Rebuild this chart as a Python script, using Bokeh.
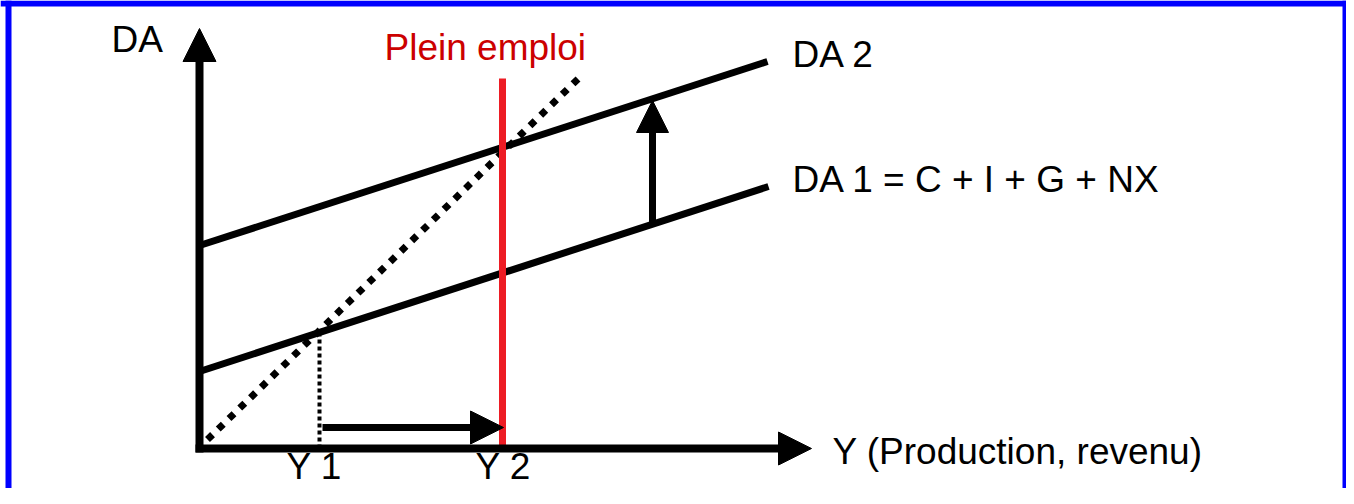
from bokeh.plotting import figure
from bokeh.models import Arrow, NormalHead, Span
from bokeh.core.properties import value
from bokeh.embed import file_html
from bokeh.resources import INLINE

# ---- data (diagram units: origin at the axes' intersection) ----
axis_y_x = [0, 0]
axis_y_y = [-4, 420]
axis_x_x = [-4, 612]
axis_x_y = [0, 0]

da1_x = [0, 569]
da1_y = [77, 262]
da2_x = [0, 568]
da2_y = [203, 387]

line45_x = [8, 380]
line45_y = [9, 371]

plein_x = [303, 303]
plein_y = [0, 370]

y1_x = [120, 120]
y1_y = [0, 116]

shift_h = dict(x0=123, x1=304, y=21)    # Y1 -> Y2
shift_v = dict(x=453, y0=224, y1=348)   # DA1 -> DA2

labels_text = ["DA", "DA 2", "DA 1 = C + I + G + NX", "Y (Production, revenu)", "Y 1", "Y 2"]
labels_x = [-88, 593, 593, 633, 87, 276]
labels_y = [409, 394, 269, -3, -18, -18]
plein_label = "Plein emploi"
plein_label_x = [185]
plein_label_y = [401]

FONT = value("Liberation Sans")

p = figure(width=1346, height=488, x_range=(-199, 1147), y_range=(-40, 448),
           min_border=0, toolbar_location=None, output_backend="svg")
p.axis.visible = False
p.grid.visible = False
p.outline_line_color = None
p.background_fill_color = "white"
p.border_fill_color = "white"

# blue frame (visible sides)
p.add_layout(Span(location=-191, dimension="height", line_color="#0000FF", line_width=6))
p.add_layout(Span(location=1146, dimension="height", line_color="#0000FF", line_width=6))
p.add_layout(Span(location=445, dimension="width", line_color="#0000FF", line_width=6))

# curves
p.line(da1_x, da1_y, line_color="black", line_width=7)
p.line(da2_x, da2_y, line_color="black", line_width=7)
p.line(line45_x, line45_y, line_color="black", line_width=7, line_dash="7 8")
p.line(y1_x, y1_y, line_color="black", line_width=4, line_dash="4 3")
p.line(plein_x, plein_y, line_color="#ED1C24", line_width=7)

def head(size):
    return NormalHead(size=size, fill_color="black", line_color="black", line_width=1)

# axes with arrowheads
p.add_layout(Arrow(end=head(33), x_start=axis_y_x[0], y_start=axis_y_y[0],
                   x_end=axis_y_x[1], y_end=axis_y_y[1], line_width=8, line_color="black"))
p.add_layout(Arrow(end=head(33), x_start=axis_x_x[0], y_start=axis_x_y[0],
                   x_end=axis_x_x[1], y_end=axis_x_y[1], line_width=8, line_color="black"))

# shift arrows
p.add_layout(Arrow(end=head(33), x_start=shift_h["x0"], y_start=shift_h["y"],
                   x_end=shift_h["x1"], y_end=shift_h["y"], line_width=7, line_color="black"))
p.add_layout(Arrow(end=head(32), x_start=shift_v["x"], y_start=shift_v["y0"],
                   x_end=shift_v["x"], y_end=shift_v["y1"], line_width=7, line_color="black"))

# labels
p.text(x=labels_x, y=labels_y, text=labels_text, text_font=FONT, text_font_size="37px",
       text_color="black", text_align="left", text_baseline="alphabetic")
p.text(x=plein_label_x, y=plein_label_y, text=[plein_label], text_font=FONT, text_font_size="37px",
       text_color="#CC0000", text_align="left", text_baseline="alphabetic")

open("out.html", "w").write(file_html(p, INLINE))
